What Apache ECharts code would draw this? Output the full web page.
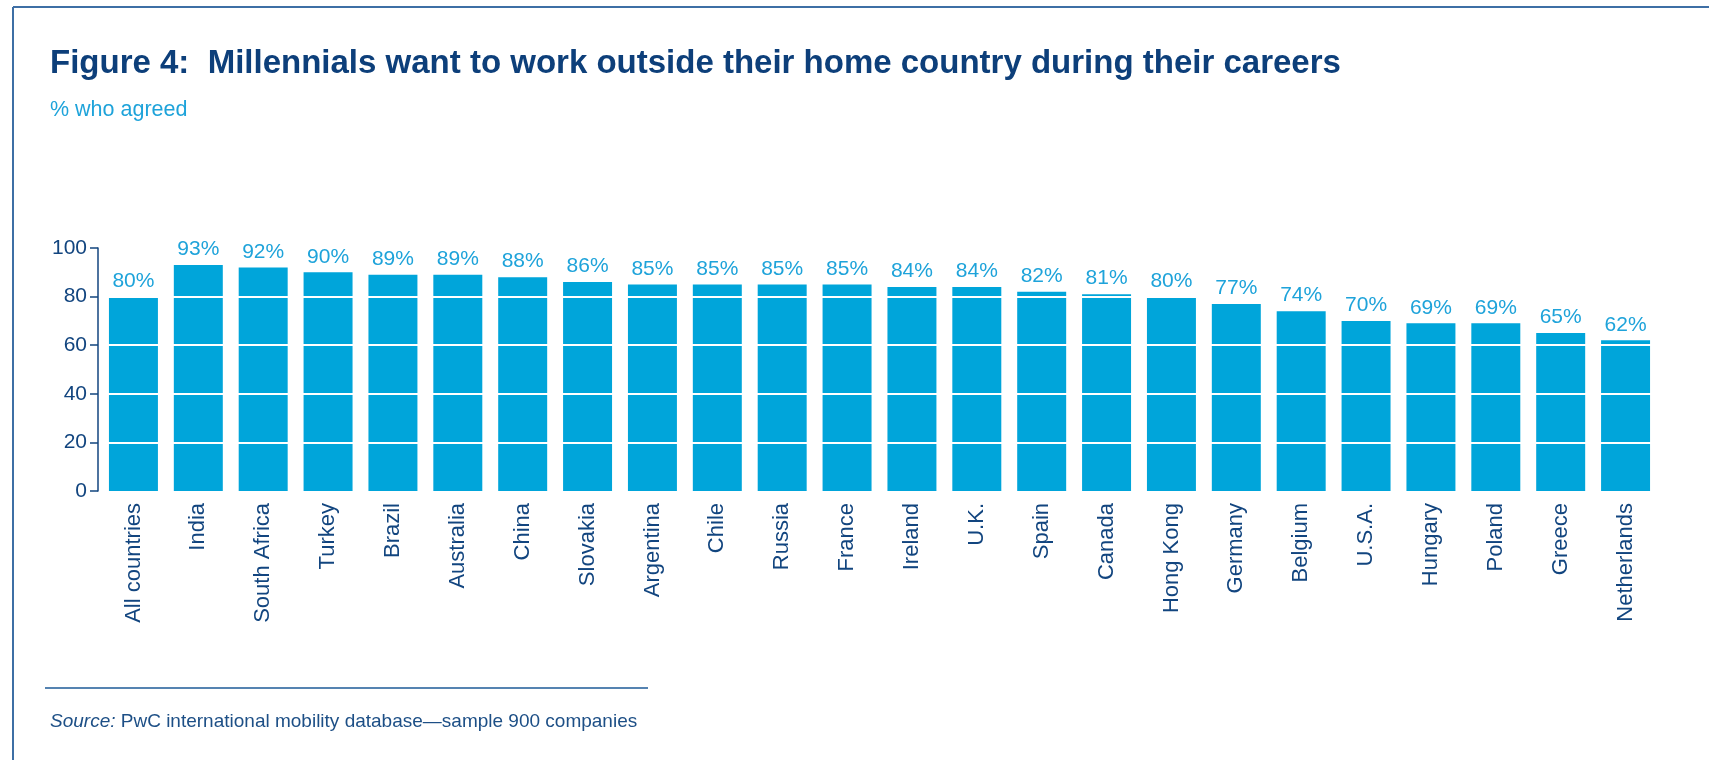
<!DOCTYPE html>
<html>
<head>
<meta charset="utf-8">
<script src="https://cdn.jsdelivr.net/npm/echarts@6/dist/echarts.min.js"></script>
<style>
html,body{margin:0;padding:0;background:#fff;}
#chart{width:1709px;height:760px;}
</style>
</head>
<body>
<div id="chart"></div>
<script>
const categories = ["All countries","India","South Africa","Turkey","Brazil","Australia","China","Slovakia","Argentina","Chile","Russia","France","Ireland","U.K.","Spain","Canada","Hong Kong","Germany","Belgium","U.S.A.","Hungary","Poland","Greece","Netherlands"];
const agreedPct = [80,93,92,90,89,89,88,86,85,85,85,85,84,84,82,81,80,77,74,70,69,69,65,62];
const yTicks = [0,20,40,60,80,100];
const gridValues = [20,40,60,80];

const titleText = "Figure 4:  Millennials want to work outside their home country during their careers";
const subtitleText = "% who agreed";
const sourceLabel = "Source:";
const sourceText = " PwC international mobility database\u2014sample 900 companies";

const FONT = "'Liberation Sans', Arial, Helvetica, sans-serif";
const NAVY = "#12457f";
const LIGHT = "#1ea3da";
const BAR = "#00a5da";

const chart = echarts.init(document.getElementById('chart'));
chart.setOption({
  animation: false,
  backgroundColor: '#ffffff',
  title: [
    { text: titleText, left: 45, top: 42,
      textStyle: { fontFamily: FONT, fontSize: 33, fontWeight: 'bold', color: '#0d3f7a' } },
    { text: subtitleText, left: 45, top: 94,
      textStyle: { fontFamily: FONT, fontSize: 21.5, fontWeight: 'normal', color: LIGHT } },
    { text: '{i|' + sourceLabel + '}' + sourceText, left: 45, top: 707,
      textStyle: { fontFamily: FONT, fontSize: 19, fontWeight: 'normal', color: '#1d4f86',
        rich: { i: { fontFamily: FONT, fontSize: 19, fontStyle: 'italic', color: '#1d4f86' } } } }
  ],
  graphic: [
    { type: 'line', shape: { x1: 13, y1: 7, x2: 1709, y2: 7 }, style: { stroke: '#3e6fa5', lineWidth: 2 } },
    { type: 'line', shape: { x1: 13, y1: 7, x2: 13, y2: 760 }, style: { stroke: '#3e6fa5', lineWidth: 2 } },
    { type: 'line', shape: { x1: 45, y1: 688, x2: 648, y2: 688 }, style: { stroke: '#1d5a97', lineWidth: 1.5 } }
  ],
  grid: { left: 101, right: 51, top: 248, bottom: 269, containLabel: false },
  xAxis: {
    type: 'category',
    data: categories,
    axisLine: { show: false },
    axisTick: { show: false },
    axisLabel: { rotate: 90, interval: 0, margin: 12, fontFamily: FONT, fontSize: 22, color: NAVY }
  },
  yAxis: {
    type: 'value',
    min: yTicks[0], max: yTicks[yTicks.length - 1], interval: 20,
    offset: 3,
    axisLine: { show: true, lineStyle: { color: NAVY, width: 1.5 } },
    axisTick: { show: true, length: 8, lineStyle: { color: NAVY, width: 1.5 } },
    axisLabel: { fontFamily: FONT, fontSize: 21, color: NAVY, margin: 11 },
    splitLine: { show: false }
  },
  series: [
    {
      type: 'bar',
      data: agreedPct,
      barWidth: '75.5%',
      itemStyle: { color: BAR },
      label: { show: false },
      markLine: {
        silent: true,
        symbol: 'none',
        label: { show: false },
        lineStyle: { color: '#ffffff', width: 2, type: 'solid' },
        data: gridValues.map(v => ({ yAxis: v }))
      }
    },
    {
      type: 'bar',
      data: agreedPct,
      barWidth: '75.5%',
      barGap: '-100%',
      z: 10,
      silent: true,
      itemStyle: { color: 'rgba(0,0,0,0)' },
      label: { show: true, position: 'top', distance: 5, formatter: '{c}%',
        fontFamily: FONT, fontSize: 21, color: LIGHT }
    }
  ]
});
</script>
</body>
</html>
